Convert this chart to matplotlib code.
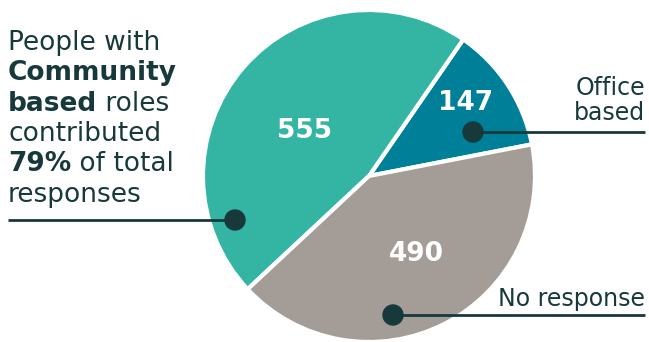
import matplotlib
matplotlib.use('Agg')
import matplotlib.pyplot as plt
import numpy as np

plt.rcParams['font.family'] = ['DejaVu Sans']

# data
labels = ['Office based', 'Community based', 'No response']
values = [147, 555, 490]
colors = ['#007F99', '#34B5A4', '#A39C97']

DARK = '#18393B'
W, H = 649, 342


def Y(y):
    # image y (top-down) -> data y (bottom-up)
    return H - y


fig = plt.figure(figsize=(W / 100, H / 100), dpi=100)
ax = fig.add_axes([0, 0, 1, 1])

cx, cy, r = 369, Y(176), 166
wedges, _ = ax.pie(values, colors=colors, startangle=11, counterclock=True,
                   center=(cx, cy), radius=r, frame=True,
                   wedgeprops=dict(edgecolor='white', linewidth=3))
ax.set_xlim(0, W)
ax.set_ylim(0, H)
ax.set_aspect('equal')
ax.axis('off')

# value labels inside wedges (radial fraction + angle nudge per wedge)
label_frac = [0.73, 0.47, 0.55]
label_shift = [4, 6, 4]
for w, v, f, s in zip(wedges, values, label_frac, label_shift):
    mid = np.deg2rad((w.theta1 + w.theta2) / 2 + s)
    ax.text(cx + f * r * np.cos(mid), cy + f * r * np.sin(mid), str(v),
            ha='center', va='center', color='white', fontsize=19,
            fontweight='bold')

# leader dots and lines
dot_pos = [(473, 132), (235, 220), (393, 315)]
line_end = [645, 8, 645]
for (dx, dy), xe in zip(dot_pos, line_end):
    ax.plot([dx, xe], [Y(dy), Y(dy)], color=DARK, lw=2, solid_capstyle='butt',
            zorder=5)
    ax.add_patch(plt.Circle((dx, Y(dy)), 10, color=DARK, zorder=6))

# right labels
ax.text(645, Y(95), 'Office', ha='right', va='baseline', fontsize=17,
        color=DARK)
ax.text(645, Y(120), 'based', ha='right', va='baseline', fontsize=17,
        color=DARK)
ax.text(645, Y(306), 'No response', ha='right', va='baseline', fontsize=17,
        color=DARK)

# left rich text
lines = [
    [('People with', 'normal')],
    [('Community', 'heavy')],
    [('based', 'heavy'), (' roles', 'normal')],
    [('contributed', 'normal')],
    [('79%', 'heavy'), (' of total', 'normal')],
    [('responses', 'normal')],
]
renderer = fig.canvas.get_renderer()
base0, step = 50, 30.3
for i, parts in enumerate(lines):
    x = 8
    for txt, wgt in parts:
        t = ax.text(x, Y(base0 + i * step), txt, ha='left', va='baseline',
                    fontsize=19, color=DARK,
                    fontweight='bold' if wgt == 'heavy' else 'normal')
        bb = t.get_window_extent(renderer=renderer)
        x += bb.width

fig.savefig('out.png', dpi=100)
